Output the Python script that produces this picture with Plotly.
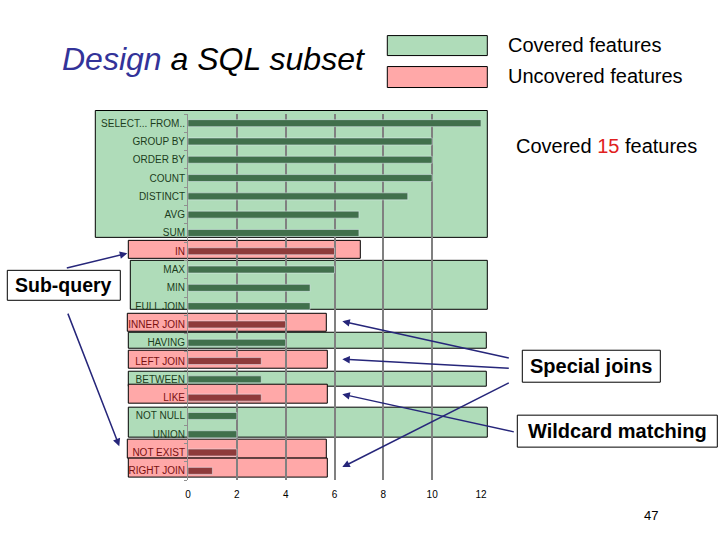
import plotly.graph_objects as go

# ---- data ----
features = ["SELECT... FROM..", "GROUP BY", "ORDER BY", "COUNT", "DISTINCT", "AVG", "SUM",
            "IN", "MAX", "MIN", "FULL JOIN", "INNER JOIN", "HAVING", "LEFT JOIN",
            "BETWEEN", "LIKE", "NOT NULL", "UNION", "NOT EXIST", "RIGHT JOIN"]
counts = [12, 10, 10, 10, 9, 7, 7, 6, 6, 5, 5, 4, 4, 3, 3, 3, 2, 2, 2, 1]
covered = [True, True, True, True, True, True, True, False, True, True, True, False,
           True, False, True, False, True, True, False, False]
x_ticks = [0, 2, 4, 6, 8, 10, 12]

GREEN_BAR = "#41704c"
RED_BAR = "#8e3b3b"
GREEN_BG = "#afdcb9"
PINK_BG = "#ffa8a8"
GREEN_TXT = "#1c3d1c"
RED_TXT = "#7a1010"
ARROW = "#26267a"

W, H = 720, 540
L, R = 187.7, 480.7
T, B = 113.5, 479.9


def px(xp):
    return (xp - L) / (R - L)


def py(yp):
    return (B - yp) / (B - T)


fig = go.Figure()
cx = [c for c, f in zip(counts, covered) if f]
cy = [n for n, f in zip(features, covered) if f]
ux = [c for c, f in zip(counts, covered) if not f]
uy = [n for n, f in zip(features, covered) if not f]
fig.add_trace(go.Bar(x=cx, y=cy, orientation="h", marker_color=GREEN_BAR,
                     width=0.38, name="Covered features", showlegend=False))
fig.add_trace(go.Bar(x=ux, y=uy, orientation="h", marker_color=RED_BAR,
                     width=0.38, name="Uncovered features", showlegend=False))

ticktext = [f"<span style='color:{GREEN_TXT if f else RED_TXT}'>{n}</span>"
            for n, f in zip(features, covered)]

shapes = []


def rect(x0, y0, x1, y1, color, ref_layer="below"):
    shapes.append(dict(type="rect", xref="paper", yref="paper",
                       x0=px(x0), x1=px(x1), y0=py(y1), y1=py(y0),
                       fillcolor=color, line=dict(color="black", width=1),
                       layer=ref_layer))


# background groups
rect(95, 110, 487, 237, GREEN_BG)
rect(128, 240, 360, 258, PINK_BG)
rect(130, 260, 487, 309, GREEN_BG)
rect(127, 313, 326, 331, PINK_BG)
rect(128, 332, 486, 348, GREEN_BG)
rect(128, 350, 327, 368, PINK_BG)
rect(128, 371, 486, 386, GREEN_BG)
rect(128, 384, 327, 403, PINK_BG)
rect(128, 407, 487, 437, GREEN_BG)
rect(127, 439, 326, 458, PINK_BG)
rect(128, 458, 327, 477, PINK_BG)

# legend patches
rect(387, 35, 487, 55, GREEN_BG, "above")
rect(387, 66, 487, 87, PINK_BG, "above")

# callout boxes
rect(7, 270, 120, 300, "white", "above")
rect(522, 350, 660, 382, "white", "above")
rect(517, 415, 717, 447, "white", "above")

ann = []


def text(xp, yp, s, size, anchor="left", color="black"):
    ann.append(dict(xref="paper", yref="paper", x=px(xp), y=py(yp), text=s,
                    showarrow=False, xanchor=anchor, yanchor="middle",
                    font=dict(size=size, color=color,
                              family="Arial, Liberation Sans, sans-serif")))


text(60, 58, "<i><span style='color:#333399'>Design</span> a SQL subset</i>", 32)
text(506, 44, "Covered features", 20)
text(506, 75, "Uncovered features", 20)
text(514, 146, "Covered <span style='color:#e02020'>15</span> features", 20)
text(63.5, 285, "<b>Sub-query</b>", 19.5, anchor="center")
text(591, 366, "<b>Special joins</b>", 20, anchor="center")
text(617, 431, "<b>Wildcard matching</b>", 20, anchor="center")
text(651, 515, "47", 13, anchor="center")


def arrow(tx, ty, hx, hy):
    ann.append(dict(xref="paper", yref="paper", x=px(hx), y=py(hy), text="",
                    showarrow=True, axref="pixel", ayref="pixel",
                    ax=tx - hx, ay=ty - hy, arrowhead=2, arrowsize=1,
                    arrowwidth=1.5, arrowcolor=ARROW))


arrow(65, 268, 127, 253)
arrow(67, 312, 119, 446)
arrow(510, 358, 342, 321)
arrow(510, 368, 342, 359)
arrow(510, 382, 342, 467)
arrow(515, 432, 342, 394)

fig.update_layout(
    width=W, height=H, autosize=False,
    margin=dict(l=L, r=W - R, t=T, b=H - B, pad=0),
    paper_bgcolor="white", plot_bgcolor="rgba(0,0,0,0)",
    barmode="overlay", showlegend=False,
    shapes=shapes, annotations=ann,
    font=dict(family="Arial, Liberation Sans, sans-serif"),
    xaxis=dict(range=[0, 12], tickvals=x_ticks, showgrid=True,
               gridcolor="#808080", gridwidth=2, zeroline=False, showline=False,
               ticks="outside", ticklen=5, tickcolor="rgba(0,0,0,0)",
               tickfont=dict(size=10, color="black"), fixedrange=True),
    yaxis=dict(categoryorder="array", categoryarray=features,
               tickvals=features, ticktext=ticktext,
               range=[19.5, -0.5], showgrid=False, zeroline=False,
               showline=True, linecolor="#909090", linewidth=1,
               ticks="outside", ticklen=3, tickcolor="#909090",
               tickson="boundaries",
               tickfont=dict(size=10), fixedrange=True),
)

fig.write_html("out.html", config={"displayModeBar": False},
               post_script="document.body.style.margin='0';")
